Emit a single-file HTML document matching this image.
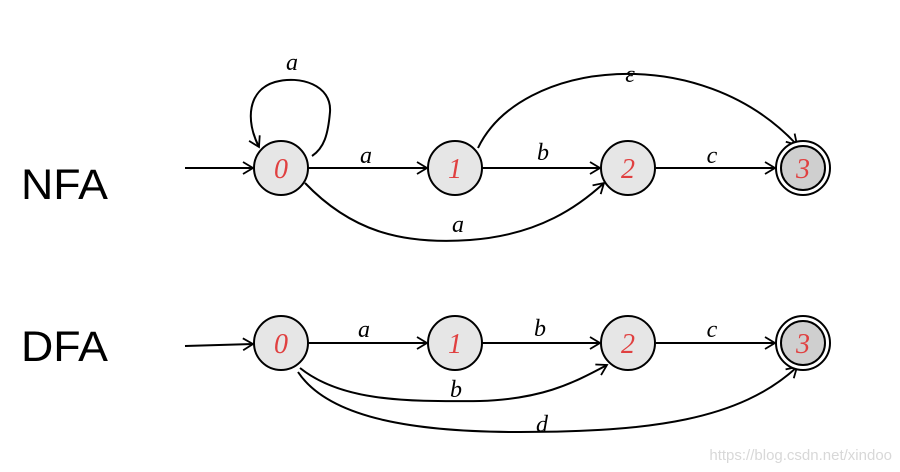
<!DOCTYPE html>
<html><head><style>
html,body{margin:0;padding:0;background:#fff;width:900px;height:472px;overflow:hidden}
</style></head><body>
<svg width="900" height="472" viewBox="0 0 900 472" xmlns="http://www.w3.org/2000/svg">
<defs>
<marker id="ar" markerWidth="14" markerHeight="14" refX="11" refY="7" orient="auto" markerUnits="userSpaceOnUse">
<path d="M1,1 L11,7 L1,13" fill="none" stroke="#000" stroke-width="1.8"/>
</marker>
</defs>
<g font-family="Liberation Sans, sans-serif" font-size="43" fill="#000">
<text x="21" y="199" textLength="87" lengthAdjust="spacingAndGlyphs">NFA</text>
<text x="21" y="361" textLength="87" lengthAdjust="spacingAndGlyphs">DFA</text>
</g>
<g fill="none" stroke="#000" stroke-width="2">
<!-- NFA -->
<line x1="185" y1="168" x2="253" y2="168" marker-end="url(#ar)"/>
<path d="M312,156 C324,148 328,135 330,112 C332,85 300,75 275,82 C248,90 245,120 259,147" marker-end="url(#ar)"/>
<line x1="308" y1="168" x2="427" y2="168" marker-end="url(#ar)"/>
<line x1="482" y1="168" x2="600" y2="168" marker-end="url(#ar)"/>
<line x1="656" y1="168" x2="775" y2="168" marker-end="url(#ar)"/>
<path d="M478,148 C520,60 700,40 797,145" marker-end="url(#ar)"/>
<path d="M305,183 C350,230 400,245 470,240 C540,235 580,205 604,183" marker-end="url(#ar)"/>
<!-- DFA -->
<line x1="185" y1="346" x2="253" y2="344" marker-end="url(#ar)"/>
<line x1="308" y1="343" x2="427" y2="343" marker-end="url(#ar)"/>
<line x1="482" y1="343" x2="600" y2="343" marker-end="url(#ar)"/>
<line x1="656" y1="343" x2="775" y2="343" marker-end="url(#ar)"/>
<path d="M300,368 C340,400 400,402 480,401 C540,399 570,385 607,365" marker-end="url(#ar)"/>
<path d="M298,372 C330,420 420,432 520,432 C650,432 740,420 797,367" marker-end="url(#ar)"/>
</g>
<g stroke="#000" stroke-width="2" fill="#e6e6e6">
<circle cx="281" cy="168" r="27"/>
<circle cx="455" cy="168" r="27"/>
<circle cx="628" cy="168" r="27"/>
<circle cx="803" cy="168" r="27" fill="#fff"/>
<circle cx="803" cy="168" r="22" fill="#cfcfcf"/>
<circle cx="281" cy="343" r="27"/>
<circle cx="455" cy="343" r="27"/>
<circle cx="628" cy="343" r="27"/>
<circle cx="803" cy="343" r="27" fill="#fff"/>
<circle cx="803" cy="343" r="22" fill="#cfcfcf"/>
</g>
<g font-family="Liberation Serif, serif" font-size="28" fill="#e04040" text-anchor="middle" font-style="italic">
<text x="281" y="178">0</text><text x="455" y="178">1</text><text x="628" y="178">2</text><text x="803" y="178">3</text>
<text x="281" y="353">0</text><text x="455" y="353">1</text><text x="628" y="353">2</text><text x="803" y="353">3</text>
</g>
<g font-family="Liberation Serif, serif" font-size="24" fill="#000" text-anchor="middle" font-style="italic">
<text x="292" y="70">a</text>
<text x="366" y="163">a</text>
<text x="543" y="160">b</text>
<text x="712" y="163">c</text>
<text x="630" y="82">ε</text>
<text x="458" y="232">a</text>
<text x="364" y="337">a</text>
<text x="540" y="336">b</text>
<text x="712" y="337">c</text>
<text x="456" y="397">b</text>
<text x="542" y="432">d</text>
</g>
<text x="892" y="460" font-family="Liberation Sans, sans-serif" font-size="15" fill="#d8d8d8" text-anchor="end">https://blog.csdn.net/xindoo</text>
</svg>
</body></html>
